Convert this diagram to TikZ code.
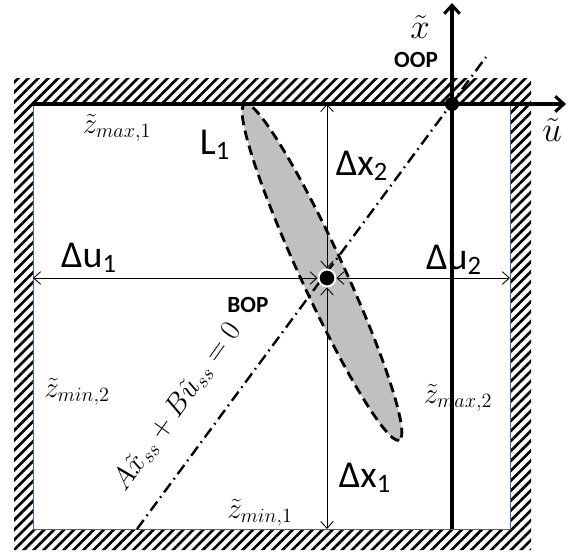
\documentclass[tikz,border=0pt]{standalone}
\usepackage[no-math]{fontspec}
\setmainfont{Carlito}
\usetikzlibrary{arrows.meta,patterns.meta}
\definecolor{wallline}{RGB}{70,100,150}
\definecolor{regiongray}{RGB}{192,192,192}

\begin{document}
\begin{tikzpicture}[x=0.025cm, y=-0.025cm, line join=round,
  dimarrow/.style={line width=0.6pt, {Straight Barb[length=5pt,width=9pt]}-{Straight Barb[length=5pt,width=9pt]}},
  axisarrow/.style={line width=2.2pt, -{Straight Barb[length=6pt,width=11pt]}},
  dimlabel/.style={font=\fontsize{27}{30}\selectfont},
  pointtag/.style={font=\fontsize{16.5}{20}\selectfont\bfseries},
  boundlabel/.style={font=\fontsize{22}{26}\selectfont},
  opdot/.style={circle, fill=black, inner sep=0pt, minimum size=#1}]

  \useasboundingbox (0,0) rectangle (568,554);

  % -- Constraint walls (hatched) --
  \fill[pattern={Lines[angle=45,distance=5pt,line width=1.9pt]}, even odd rule]
    (14,78) rectangle (531,550) (33,104) rectangle (510,529);
  \draw[wallline, line width=0.5pt] (33,104) rectangle (510,529);

  % -- Region L_1 --
  \coordinate (lc) at (322,272);
  \filldraw[fill=regiongray, line width=2pt, dash pattern=on 7pt off 4pt,
    rotate around={-65.3:(lc)}] (lc) ellipse [x radius=185, y radius=22];

  % -- Steady-state line --
  \coordinate (ssB) at (137,529);
  \coordinate (ssT) at (486,57);
  \draw[line width=1.7pt, dash pattern=on 8pt off 3.5pt on 1.2pt off 3.5pt] (ssB) -- (ssT);

  % -- Axes --
  \coordinate (axL) at (33,104);
  \coordinate (utip) at (566,104);
  \coordinate (axB) at (452,529);
  \coordinate (xtip) at (452,3);
  \draw[axisarrow] (axL) -- (utip);
  \draw[axisarrow] (axB) -- (xtip);

  % -- Operating points --
  \node[opdot=10pt] (oop) at (452,104) {};
  \node[opdot=12pt, draw=white, line width=1.4pt] (bop) at (327,278) {};

  % -- Distances to the walls --
  \coordinate (wallT) at (327,104);
  \coordinate (wallB) at (327,529);
  \coordinate (wallL) at (33,278);
  \coordinate (wallR) at (510,278);
  \draw[dimarrow] (bop) -- (wallT);
  \draw[dimarrow] (bop) -- (wallB);
  \draw[dimarrow] (bop) -- (wallL);
  \draw[dimarrow] (bop) -- (wallR);

  % Labels
  \node[dimlabel] (du1) at (89,258) {Δu\textsubscript{1}};
  \node[dimlabel] (du2) at (454,260) {Δu\textsubscript{2}};
  \node[dimlabel] (dx2) at (362,166) {Δx\textsubscript{2}};
  \node[dimlabel] (dx1) at (365,478) {Δx\textsubscript{1}};
  \node[dimlabel] (l1) at (215,145) {L\textsubscript{1}};
  \node[pointtag] (ooptag) at (416,60) {OOP};
  \node[pointtag] (boptag) at (248,305) {BOP};
  \node[boundlabel, font=\fontsize{25}{28}\selectfont] (xlab) at (420,27) {$\tilde x$};
  \node[boundlabel, font=\fontsize{25}{28}\selectfont] (ulab) at (552,130) {$\tilde u$};
  \node[boundlabel] (zmax1) at (117,128) {$\tilde z_{max,1}$};
  \node[boundlabel] (zmin2) at (77,392) {$\tilde z_{min,2}$};
  \node[boundlabel] (zmax2) at (458,398) {$\tilde z_{max,2}$};
  \node[boundlabel] (zmin1) at (260,513) {$\tilde z_{min,1}$};
  \node[boundlabel, rotate=54.4] (sseq) at (177,407) {$A\tilde x_{ss}+B\tilde u_{ss}=0$};

\end{tikzpicture}
\end{document}
